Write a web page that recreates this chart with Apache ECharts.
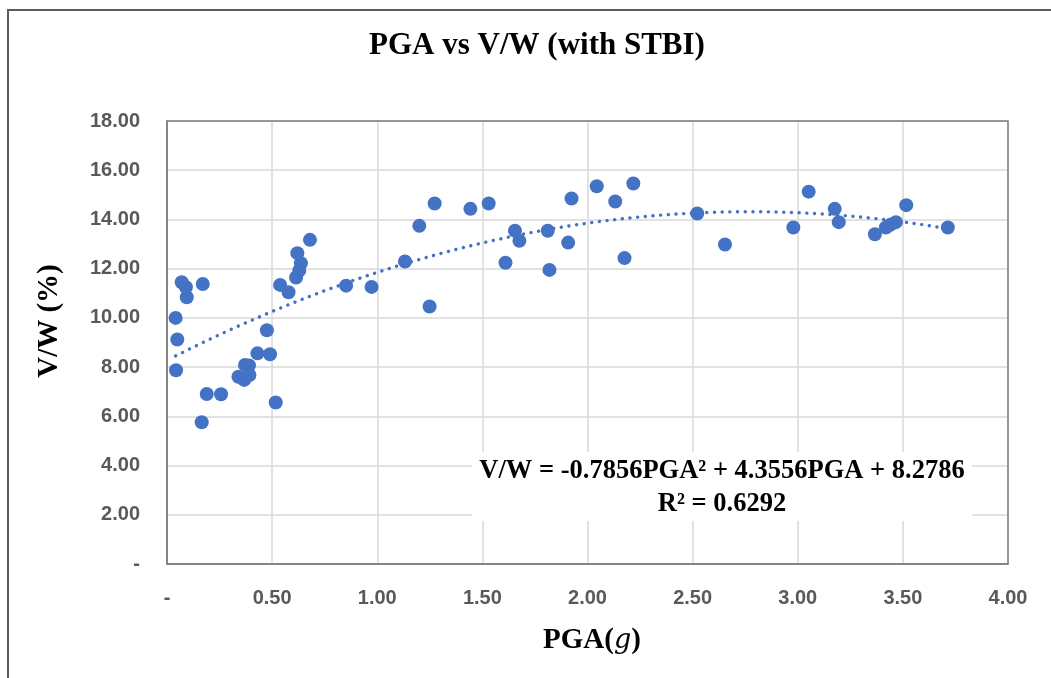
<!DOCTYPE html>
<html lang="en">
<head>
    <meta charset="UTF-8">
    <title>PGA vs V/W (with STBI)</title>
    <script src="https://cdn.jsdelivr.net/npm/echarts@6/dist/echarts.min.js"></script>
    <style>
        body, html {
            margin: 0;
            padding: 0;
            width: 100%;
            height: 100%;
            overflow: hidden;
            background-color: #fff;
        }
        #container {
            width: 1051px;
            height: 678px;
        }
    </style>
</head>
<body>
    <div id="container"></div>

    <script>
        // measured points: PGA (g) and V/W (%)
        var pga = [0.041, 0.049, 0.043, 0.07, 0.09, 0.094, 0.17, 0.165, 0.189, 0.257,
                   0.34, 0.367, 0.371, 0.39, 0.392, 0.43, 0.475, 0.49, 0.517, 0.538,
                   0.578, 0.614, 0.629, 0.637, 0.62, 0.68, 0.852, 0.973, 1.132, 1.20,
                   1.249, 1.273, 1.443, 1.53, 1.61, 1.655, 1.676, 1.811, 1.819, 1.908,
                   1.924, 2.044, 2.132, 2.176, 2.218, 2.522, 2.654, 2.979, 3.052, 3.176,
                   3.195, 3.367, 3.419, 3.44, 3.467, 3.516, 3.714];
        var vw = [10.0, 9.12, 7.87, 11.45, 11.25, 10.84, 11.38, 5.76, 6.91, 6.9,
                  7.61, 7.48, 8.09, 8.07, 7.68, 8.56, 9.5, 8.52, 6.56, 11.34,
                  11.04, 11.64, 11.92, 12.22, 12.63, 13.17, 11.31, 11.26, 12.29, 13.74,
                  10.46, 14.65, 14.43, 14.65, 12.24, 13.54, 13.13, 13.54, 11.95, 13.06,
                  14.85, 15.35, 14.73, 12.43, 15.46, 14.24, 12.98, 13.67, 15.13, 14.43,
                  13.89, 13.4, 13.67, 13.78, 13.89, 14.58, 13.67];

        // polynomial trendline coefficients as printed on the chart (a2, a1, a0)
        var trendCoef = [-0.7856, 4.3556, 8.2786];
        var trendLabel = ['V/W = -0.7856PGA\u00b2 + 4.3556PGA + 8.2786', 'R\u00b2 = 0.6292'];

        var points = pga.map(function (x, i) { return [x, vw[i]]; });

        // trendline drawn across the data range
        var xMin = Math.min.apply(null, pga);
        var xMax = Math.max.apply(null, pga);
        var trend = [];
        for (var k = 0; k <= 80; k++) {
            var x = xMin + (xMax - xMin) * k / 80;
            trend.push([x, trendCoef[0] * x * x + trendCoef[1] * x + trendCoef[2]]);
        }

        function fmt(v) {
            return v === 0 ? '-' : v.toFixed(2);
        }

        var labelFont = {
            color: '#595959',
            fontFamily: '"Liberation Sans Narrow", "Liberation Sans", Arial, sans-serif',
            fontWeight: 'bold',
            fontSize: 20
        };
        var serif = '"Liberation Serif", "Times New Roman", serif';

        var option = {
            backgroundColor: '#fff',
            animation: false,
            grid: { left: 167, top: 121, right: 43, bottom: 114 },
            xAxis: {
                type: 'value',
                min: 0,
                max: 4,
                interval: 0.5,
                axisLine: { show: true, lineStyle: { color: '#7f7f7f', width: 1.5 } },
                axisTick: { show: false },
                axisLabel: Object.assign({ formatter: fmt, margin: 24 }, labelFont),
                splitLine: { show: true, lineStyle: { color: '#d9d9d9', width: 1.5 } }
            },
            yAxis: {
                type: 'value',
                min: 0,
                max: 18,
                interval: 2,
                axisLine: { show: true, lineStyle: { color: '#7f7f7f', width: 1.5 } },
                axisTick: { show: false },
                axisLabel: Object.assign({ formatter: fmt, margin: 27 }, labelFont),
                splitLine: { show: true, lineStyle: { color: '#d9d9d9', width: 1.5 } }
            },
            graphic: [
                // outer chart frame
                { type: 'rect', shape: { x: 8, y: 10, width: 1100, height: 700 },
                  style: { fill: 'none', stroke: '#5a5a5a', lineWidth: 2 }, z: -1 },
                // plot area frame
                { type: 'rect', shape: { x: 167, y: 121, width: 841, height: 443 },
                  style: { fill: 'none', stroke: '#7f7f7f', lineWidth: 1.5 }, z: 5 },
                { type: 'text', x: 537, y: 46,
                  style: { text: 'PGA vs V/W (with STBI)', fill: '#000', align: 'center', verticalAlign: 'middle',
                           font: 'bold 31px ' + serif } },
                { type: 'text', x: 50, y: 321, rotation: Math.PI / 2,
                  style: { text: 'V/W (%)', fill: '#000', align: 'center', verticalAlign: 'middle',
                           font: 'bold 29px ' + serif } },
                { type: 'text', x: 592, y: 641,
                  style: { text: '{b|PGA(}{i|g}{b|)}', align: 'center', verticalAlign: 'middle',
                           rich: {
                               b: { fontFamily: serif, fontWeight: 'bold', fontSize: 29, fill: '#000' },
                               i: { fontFamily: '"DejaVu Serif", serif', fontStyle: 'italic', fontSize: 27, fill: '#000' }
                           } } },
                // trendline label box
                { type: 'rect', shape: { x: 472, y: 452, width: 500, height: 69 },
                  style: { fill: '#fff' }, z: 10 },
                { type: 'text', x: 722, y: 471, z: 11,
                  style: { text: trendLabel[0], fill: '#000', align: 'center', verticalAlign: 'middle',
                           font: 'bold 26.5px ' + serif } },
                { type: 'text', x: 722, y: 504, z: 11,
                  style: { text: trendLabel[1], fill: '#000', align: 'center', verticalAlign: 'middle',
                           font: 'bold 26.5px ' + serif } }
            ],
            series: [
                {
                    type: 'scatter',
                    data: points,
                    symbol: 'circle',
                    symbolSize: 14,
                    itemStyle: { color: '#4472c4', opacity: 1 },
                    z: 3
                },
                {
                    type: 'line',
                    data: trend,
                    showSymbol: false,
                    smooth: false,
                    lineStyle: { color: '#4472c4', width: 3.4, type: [0.1, 7.6], cap: 'round' },
                    z: 2
                }
            ]
        };

        var chart = echarts.init(document.getElementById('container'));
        chart.setOption(option);
    </script>
</body>
</html>
